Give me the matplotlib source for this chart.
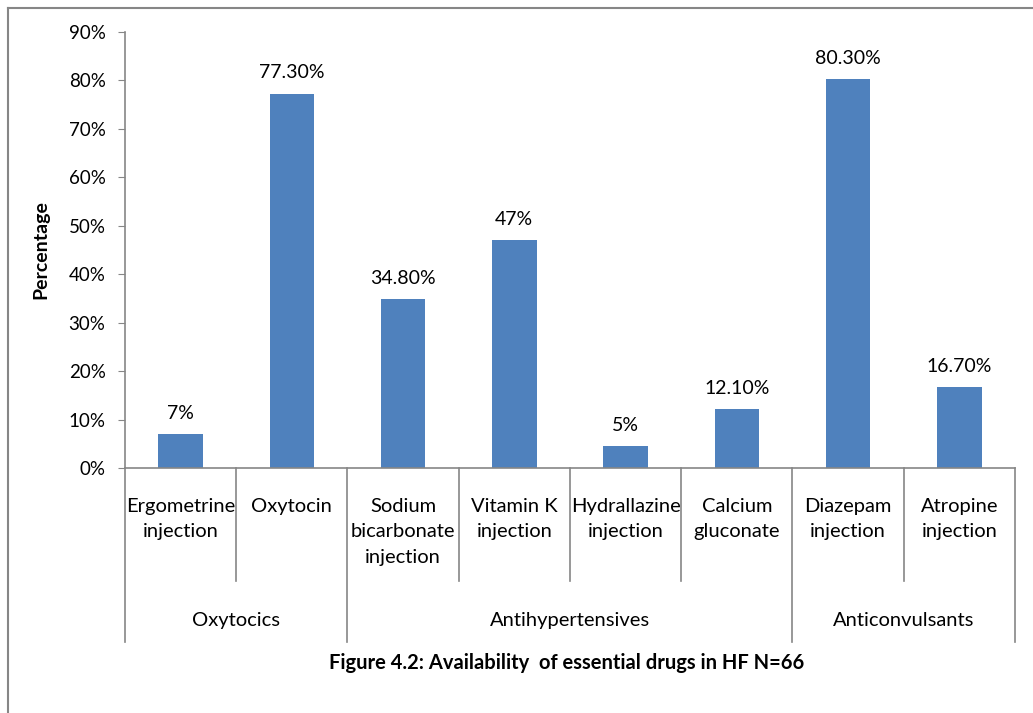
import matplotlib.pyplot as plt
from matplotlib.lines import Line2D
from matplotlib.ticker import FuncFormatter
import matplotlib.transforms as mtransforms

plt.rcParams["font.family"] = ["Lato", "DejaVu Sans"]

# data
drugs = [
    "Ergometrine\ninjection", "Oxytocin", "Sodium\nbicarbonate\ninjection",
    "Vitamin K\ninjection", "Hydrallazine\ninjection", "Calcium\ngluconate",
    "Diazepam\ninjection", "Atropine\ninjection",
]
values = [7, 77.3, 34.8, 47, 4.5, 12.1, 80.3, 16.7]
value_labels = ["7%", "77.30%", "34.80%", "47%", "5%", "12.10%", "80.30%", "16.70%"]
groups = ["Oxytocics", "Antihypertensives", "Anticonvulsants"]
group_sizes = [2, 4, 2]
y_ticks = [0, 10, 20, 30, 40, 50, 60, 70, 80, 90]

bar_color = "#4f81bd"
axis_color = "#868686"

fig = plt.figure(figsize=(10.33, 7.13), dpi=100)
ax = fig.add_axes([0.121, 0.3436, 0.8615, 0.6115])

x = list(range(len(drugs)))
ax.bar(x, values, width=0.4, color=bar_color)

for xi, v, lab in zip(x, values, value_labels):
    ax.annotate(lab, (xi, v), xytext=(0, 9), textcoords="offset points",
                ha="center", va="bottom", fontsize=14)

ax.set_xlim(-0.5, len(drugs) - 0.5)
ax.set_ylim(0, 90)
ax.set_yticks(y_ticks)
ax.yaxis.set_major_formatter(FuncFormatter(lambda v, p: f"{int(v)}%"))
ax.tick_params(axis="y", length=5, color=axis_color, labelsize=13.5, pad=9)
ax.set_xticks([])

for side in ["top", "right"]:
    ax.spines[side].set_visible(False)
ax.spines["left"].set_color(axis_color)
ax.spines["bottom"].set_color(axis_color)
ax.spines["left"].set_linewidth(1.2)
ax.spines["bottom"].set_linewidth(1.2)

ax.set_ylabel("Percentage", fontsize=14, fontweight="bold", labelpad=14)

trans = mtransforms.blended_transform_factory(ax.transData, ax.transAxes)

# category labels and separators
for xi, name in zip(x, drugs):
    ax.text(xi, -0.068, name, transform=trans, ha="center", va="top",
            fontsize=14.5, linespacing=1.62)

inner_bottom = -0.259
group_bottom = -0.399
boundaries = [b - 0.5 for b in range(len(drugs) + 1)]
group_edges = [-0.5]
for s in group_sizes:
    group_edges.append(group_edges[-1] + s)

for b in boundaries:
    low = group_bottom if b in group_edges else inner_bottom
    ax.plot([b, b], [0, low], transform=trans, color=axis_color,
            linewidth=1.2, clip_on=False)

for g, a, b in zip(groups, group_edges[:-1], group_edges[1:]):
    ax.text((a + b) / 2, -0.35, g, transform=trans, ha="center", va="center",
            fontsize=14.5)

fig.text(0.549, 0.07, "Figure 4.2: Availability  of essential drugs in HF N=66",
         ha="center", va="center", fontsize=14.5, fontweight="bold")

# chart area border (left and top visible)
fig.add_artist(Line2D([0.008, 0.008], [0, 0.989], transform=fig.transFigure,
                      color=axis_color, linewidth=1.5))
fig.add_artist(Line2D([0.008, 1], [0.989, 0.989], transform=fig.transFigure,
                      color=axis_color, linewidth=1.5))

fig.savefig("out.png", dpi=100)
